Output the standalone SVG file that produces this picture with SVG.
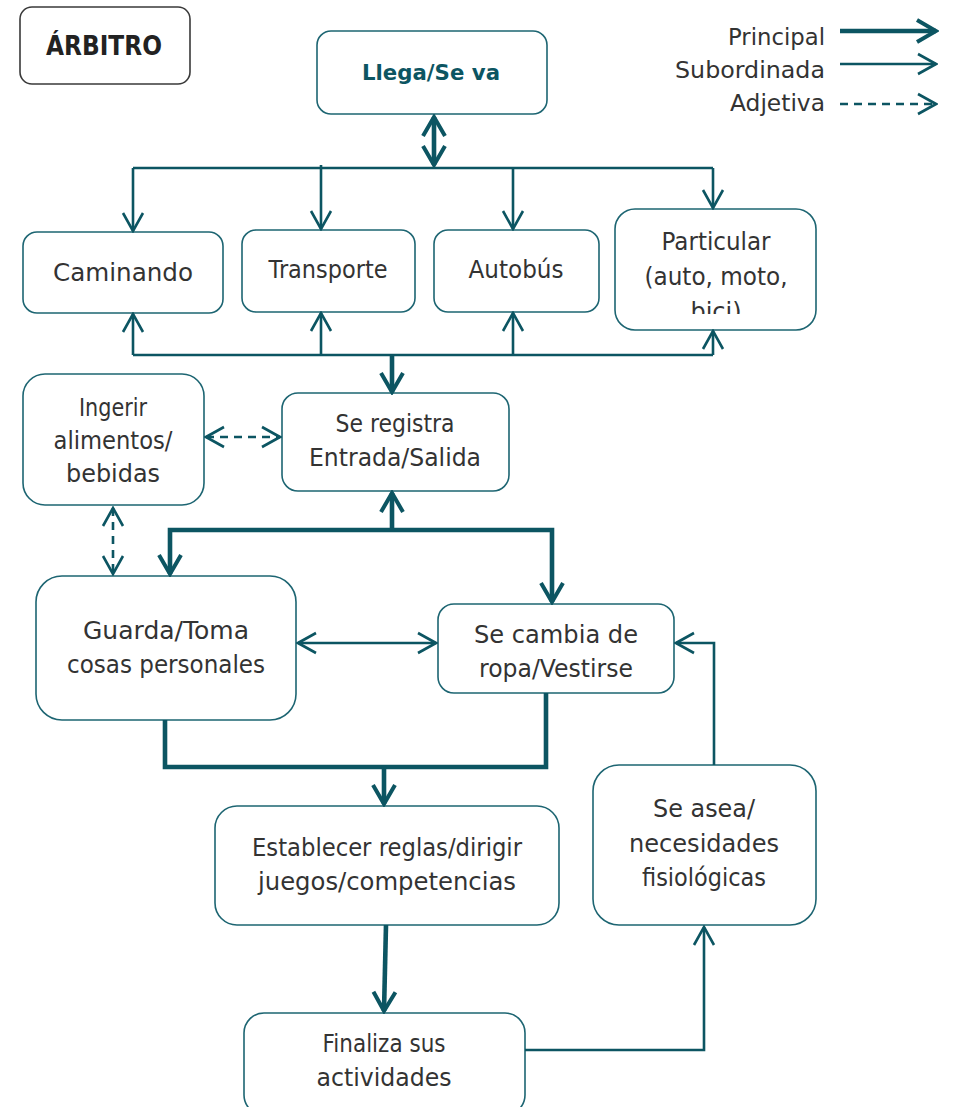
<svg xmlns="http://www.w3.org/2000/svg" width="954" height="1107" viewBox="0 0 954 1107">
  <defs>
    <style>
      .box { fill: #ffffff; stroke: #1d6572; stroke-width: 1.6; }
      .title { fill: #ffffff; stroke: #3a3a3a; stroke-width: 1.6; }
      .lbl { font-family: "DejaVu Sans", "Liberation Sans", sans-serif; font-size: 24px; fill: #333333; text-anchor: middle; }
      .leg { font-family: "DejaVu Sans", "Liberation Sans", sans-serif; font-size: 23px; fill: #333333; text-anchor: end; }
      .big { font-size: 27px; font-weight: bold; fill: #222222; }
      .head { font-size: 22px; font-weight: bold; fill: #0c5562; }
      .ln { fill: none; stroke: #0c5562; stroke-linejoin: miter; }
      .sub { stroke-width: 2.6; }
      .main { stroke-width: 4.6; }
      .adj { stroke-width: 2.6; stroke-dasharray: 8 6; }
    </style>
    <marker id="hs" viewBox="-22 -13 24 26" markerWidth="24" markerHeight="26" refX="0" refY="0" orient="auto-start-reverse" markerUnits="userSpaceOnUse">
      <path d="M-18,-10 L0,0 L-18,10" fill="none" stroke="#0c5562" stroke-width="2.6"/>
    </marker>
    <marker id="hm" viewBox="-24 -15 27 30" markerWidth="27" markerHeight="30" refX="0" refY="0" orient="auto-start-reverse" markerUnits="userSpaceOnUse">
      <path d="M-19,-11 L0,0 L-19,11" fill="none" stroke="#0c5562" stroke-width="4"/>
    </marker>
    <clipPath id="clipPart">
      <rect x="615" y="209" width="202" height="105"/>
    </clipPath>
  </defs>

  <!-- title -->
  <g id="arbitro">
    <rect class="title" x="20" y="7" width="170" height="77" rx="12"/>
    <text class="lbl big" x="104" y="55" textLength="116" lengthAdjust="spacingAndGlyphs">ÁRBITRO</text>
  </g>

  <!-- legend -->
  <g id="legend">
    <text class="leg" x="825" y="45" textLength="97" lengthAdjust="spacingAndGlyphs">Principal</text>
    <text class="leg" x="825" y="78" textLength="150" lengthAdjust="spacingAndGlyphs">Subordinada</text>
    <text class="leg" x="825" y="111" textLength="95" lengthAdjust="spacingAndGlyphs">Adjetiva</text>
    <path class="ln main" d="M840,31 H936" marker-end="url(#hm)"/>
    <path class="ln sub" d="M840,64 H936" marker-end="url(#hs)"/>
    <path class="ln adj" d="M840,104 H936" marker-end="url(#hs)"/>
  </g>

  <!-- nodes -->
  <g id="llega">
    <rect class="box" x="317" y="31" width="230" height="83" rx="14"/>
    <text class="lbl head" x="431" y="80" textLength="138" lengthAdjust="spacingAndGlyphs">Llega/Se va</text>
  </g>
  <g id="caminando">
    <rect class="box" x="23" y="232" width="200" height="81" rx="14"/>
    <text class="lbl" x="123" y="281" textLength="140" lengthAdjust="spacingAndGlyphs">Caminando</text>
  </g>
  <g id="transporte">
    <rect class="box" x="242" y="230" width="173" height="82" rx="14"/>
    <text class="lbl" x="328" y="278" textLength="119" lengthAdjust="spacingAndGlyphs">Transporte</text>
  </g>
  <g id="autobus">
    <rect class="box" x="434" y="230" width="165" height="82" rx="14"/>
    <text class="lbl" x="516" y="278" textLength="95" lengthAdjust="spacingAndGlyphs">Autobús</text>
  </g>
  <g id="particular">
    <rect class="box" x="615" y="209" width="201" height="121" rx="20"/>
    <g clip-path="url(#clipPart)">
      <text class="lbl" x="716" y="250" textLength="109" lengthAdjust="spacingAndGlyphs">Particular</text>
      <text class="lbl" x="716" y="285" textLength="143" lengthAdjust="spacingAndGlyphs">(auto, moto,</text>
      <text class="lbl" x="716" y="320">bici)</text>
    </g>
  </g>
  <g id="ingerir">
    <rect class="box" x="23" y="374" width="181" height="131" rx="22"/>
    <text class="lbl" x="113" y="416" textLength="68" lengthAdjust="spacingAndGlyphs">Ingerir</text>
    <text class="lbl" x="113" y="449" textLength="119" lengthAdjust="spacingAndGlyphs">alimentos/</text>
    <text class="lbl" x="113" y="482" textLength="94" lengthAdjust="spacingAndGlyphs">bebidas</text>
  </g>
  <g id="registra">
    <rect class="box" x="282" y="393" width="227" height="98" rx="16"/>
    <text class="lbl" x="395" y="432" textLength="119" lengthAdjust="spacingAndGlyphs">Se registra</text>
    <text class="lbl" x="395" y="466" textLength="172" lengthAdjust="spacingAndGlyphs">Entrada/Salida</text>
  </g>
  <g id="guarda">
    <rect class="box" x="36" y="576" width="260" height="144" rx="26"/>
    <text class="lbl" x="166" y="639" textLength="166" lengthAdjust="spacingAndGlyphs">Guarda/Toma</text>
    <text class="lbl" x="166" y="673" textLength="198" lengthAdjust="spacingAndGlyphs">cosas personales</text>
  </g>
  <g id="cambia">
    <rect class="box" x="438" y="604" width="236" height="89" rx="16"/>
    <text class="lbl" x="556" y="643" textLength="164" lengthAdjust="spacingAndGlyphs">Se cambia de</text>
    <text class="lbl" x="556" y="677" textLength="154" lengthAdjust="spacingAndGlyphs">ropa/Vestirse</text>
  </g>
  <g id="establecer">
    <rect class="box" x="215" y="806" width="344" height="119" rx="22"/>
    <text class="lbl" x="387" y="856" textLength="270" lengthAdjust="spacingAndGlyphs">Establecer reglas/dirigir</text>
    <text class="lbl" x="387" y="890" textLength="258" lengthAdjust="spacingAndGlyphs">juegos/competencias</text>
  </g>
  <g id="asea">
    <rect class="box" x="593" y="765" width="223" height="160" rx="26"/>
    <text class="lbl" x="704" y="817" textLength="102" lengthAdjust="spacingAndGlyphs">Se asea/</text>
    <text class="lbl" x="704" y="852" textLength="150" lengthAdjust="spacingAndGlyphs">necesidades</text>
    <text class="lbl" x="704" y="886" textLength="124" lengthAdjust="spacingAndGlyphs">fisiológicas</text>
  </g>
  <g id="finaliza">
    <rect class="box" x="244" y="1013" width="281" height="102" rx="20"/>
    <text class="lbl" x="384" y="1052" textLength="123" lengthAdjust="spacingAndGlyphs">Finaliza sus</text>
    <text class="lbl" x="384" y="1086" textLength="135" lengthAdjust="spacingAndGlyphs">actividades</text>
  </g>

  <!-- connectors -->
  <g id="connectors">
    <!-- Llega/Se va <-> transport options -->
    <path class="ln main" d="M434,117 V165" marker-start="url(#hm)" marker-end="url(#hm)"/>
    <path class="ln sub" d="M133,168 H713"/>
    <path class="ln sub" d="M133,168 V231" marker-end="url(#hs)"/>
    <path class="ln sub" d="M321,165 V229" marker-end="url(#hs)"/>
    <path class="ln sub" d="M513,168 V229" marker-end="url(#hs)"/>
    <path class="ln sub" d="M713,168 V208" marker-end="url(#hs)"/>
    <!-- transport options -> register -->
    <path class="ln sub" d="M133,355 H713"/>
    <path class="ln sub" d="M133,355 V314" marker-end="url(#hs)"/>
    <path class="ln sub" d="M321,355 V313" marker-end="url(#hs)"/>
    <path class="ln sub" d="M513,355 V313" marker-end="url(#hs)"/>
    <path class="ln sub" d="M713,355 V331" marker-end="url(#hs)"/>
    <path class="ln main" d="M392,355 V392" marker-end="url(#hm)"/>
    <!-- register <-> locker / change -->
    <path class="ln main" d="M392,530 V493" marker-end="url(#hm)"/>
    <path class="ln main" d="M170,574 V530 H552 V602" marker-start="url(#hm)" marker-end="url(#hm)"/>
    <!-- food and drink -->
    <path class="ln adj" d="M206,437 H280" marker-start="url(#hs)" marker-end="url(#hs)"/>
    <path class="ln adj" d="M113,508 V574" marker-start="url(#hs)" marker-end="url(#hs)"/>
    <!-- locker <-> change clothes -->
    <path class="ln sub" d="M298,643 H436" marker-start="url(#hs)" marker-end="url(#hs)"/>
    <!-- to refereeing -->
    <path class="ln main" d="M165,720 V767 H546 V693"/>
    <path class="ln main" d="M384,767 V804" marker-end="url(#hm)"/>
    <path class="ln main" d="M386,925 L384,1011" marker-end="url(#hm)"/>
    <!-- finish -> hygiene -> change clothes -->
    <path class="ln sub" d="M525,1050 H704 V927" marker-end="url(#hs)"/>
    <path class="ln sub" d="M714,765 V643 H676" marker-end="url(#hs)"/>
  </g>
</svg>
